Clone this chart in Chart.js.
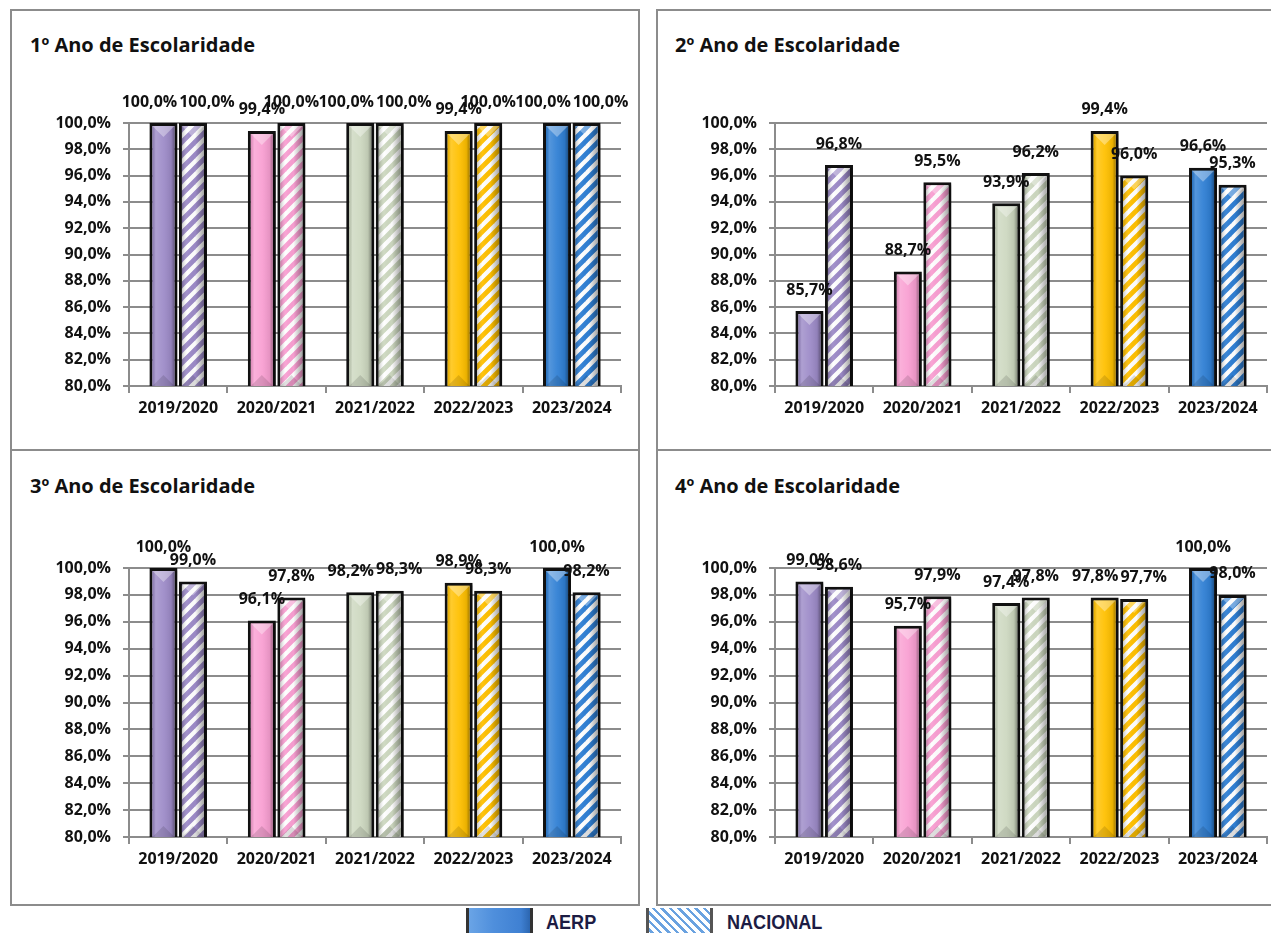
<!DOCTYPE html>
<html>
<head>
<meta charset="utf-8">
<script src="https://cdn.jsdelivr.net/npm/chart.js@4.4.1/dist/chart.umd.min.js"></script>
<style>
html,body{margin:0;padding:0;background:#fff;width:1271px;height:933px;overflow:hidden;font-family:'Open Sans',sans-serif;}
.panel{position:absolute;border:2px solid #8c8c8c;box-sizing:border-box;}
.title{position:absolute;font-weight:700;font-size:20px;color:#111;white-space:nowrap;line-height:26px;}
canvas{position:absolute;}
.lbox{position:absolute;box-sizing:border-box;}
.ltext{position:absolute;font-family:'Liberation Sans Narrow','Arial Narrow','Liberation Sans',sans-serif;font-weight:700;font-size:21px;color:#1c1c44;line-height:26px;white-space:nowrap;transform:scaleX(0.86);transform-origin:0 0;}
</style>
</head>
<body>
<div class="panel" style="left:10px;top:9px;width:630px;height:442px;"></div>
<div class="panel" style="left:656px;top:9px;width:630px;height:442px;"></div>
<div class="panel" style="left:10px;top:449px;width:630px;height:457px;"></div>
<div class="panel" style="left:656px;top:449px;width:630px;height:457px;"></div>

<div class="title" id="t1" style="left:30px;top:32px;"></div>
<div class="title" id="t2" style="left:675px;top:32px;"></div>
<div class="title" id="t3" style="left:30px;top:473px;"></div>
<div class="title" id="t4" style="left:675px;top:473px;"></div>

<canvas id="c1"></canvas>
<canvas id="c2"></canvas>
<canvas id="c3"></canvas>
<canvas id="c4"></canvas>

<div class="lbox" style="left:466px;top:908px;width:67px;height:40px;border-left:3px solid #333;border-right:3px solid #333;background:linear-gradient(to right,#6aa4e6 0%,#4f8fdc 40%,#3f80d2 85%,#2c66b0 100%);"></div>
<div class="ltext" id="lg1" style="left:546px;top:909px;"></div>
<div class="lbox" style="left:646px;top:908px;width:67px;height:40px;border-left:3px solid #555;border-right:3px solid #555;background:repeating-linear-gradient(45deg,#6aa2e0 0px,#6aa2e0 2.5px,#ffffff 2.5px,#ffffff 6px);"></div>
<div class="ltext" id="lg2" style="left:727px;top:909px;"></div>

<script>
// ---------- DATA ----------
const categories = ['2019/2020', '2020/2021', '2021/2022', '2022/2023', '2023/2024'];
const seriesNames = ['AERP', 'NACIONAL'];
const chartTitles = ['1º Ano de Escolaridade', '2º Ano de Escolaridade', '3º Ano de Escolaridade', '4º Ano de Escolaridade'];

const aerp1 = [100.0, 99.4, 100.0, 99.4, 100.0];
const nacional1 = [100.0, 100.0, 100.0, 100.0, 100.0];

const aerp2 = [85.7, 88.7, 93.9, 99.4, 96.6];
const nacional2 = [96.8, 95.5, 96.2, 96.0, 95.3];

const aerp3 = [100.0, 96.1, 98.2, 98.9, 100.0];
const nacional3 = [99.0, 97.8, 98.3, 98.3, 98.2];

const aerp4 = [99.0, 95.7, 97.4, 97.8, 100.0];
const nacional4 = [98.6, 97.9, 97.8, 97.7, 98.0];

const yMin = 80, yMax = 100, yStep = 2;

// ---------- STYLE ----------
const categoryColors = ['#9d8bc8', '#f99fd2', '#cdd8c0', '#ffc000', '#2f7fd4'];
const FONT = "'Open Sans', sans-serif";
const GRID = '#8c8c8c';

function fmt(v) { return v.toFixed(1).replace('.', ',') + '%'; }

function stripePattern(color) {
  const s = 13;
  const c = document.createElement('canvas');
  c.width = s; c.height = s;
  const g = c.getContext('2d');
  g.fillStyle = '#ffffff';
  g.fillRect(0, 0, s, s);
  g.strokeStyle = color;
  g.lineWidth = 4.8;
  g.lineCap = 'square';
  [[0, s, s, 0], [-s / 2, s / 2, s / 2, -s / 2], [s / 2, s * 1.5, s * 1.5, s / 2]].forEach(([a, b, cc, d]) => {
    g.beginPath(); g.moveTo(a, b); g.lineTo(cc, d); g.stroke();
  });
  return c;
}

const bevelPlugin = {
  id: 'bevel',
  beforeDatasetDraw(chart) {
    const ctx = chart.ctx;
    ctx.save();
    ctx.shadowColor = 'rgba(0,0,0,0.35)';
    ctx.shadowOffsetX = 3;
    ctx.shadowOffsetY = 2;
    ctx.shadowBlur = 3;
  },
  afterDatasetDraw(chart, args) {
    const ctx = chart.ctx;
    ctx.restore();
    const ca = chart.chartArea;
    const bw = 3;
    args.meta.data.forEach((el) => {
      const p = el.getProps(['x', 'y', 'base', 'width'], true);
      const l = p.x - p.width / 2 + bw, r = p.x + p.width / 2 - bw;
      const t = Math.min(p.y, p.base) + bw;
      const b = Math.min(Math.max(p.y, p.base) - bw, ca.bottom);
      if (r <= l || b <= t) return;
      ctx.save();
      ctx.beginPath(); ctx.rect(l, t, r - l, b - t); ctx.clip();
      const g = ctx.createLinearGradient(l, 0, r, 0);
      if (args.index === 0) {
        g.addColorStop(0, 'rgba(0,0,0,0.10)');
        g.addColorStop(0.15, 'rgba(255,255,255,0.18)');
        g.addColorStop(0.5, 'rgba(255,255,255,0.06)');
        g.addColorStop(0.85, 'rgba(0,0,0,0.08)');
        g.addColorStop(1, 'rgba(0,0,0,0.35)');
      } else {
        g.addColorStop(0, 'rgba(0,0,0,0.22)');
        g.addColorStop(0.25, 'rgba(255,255,255,0.05)');
        g.addColorStop(0.6, 'rgba(0,0,0,0.02)');
        g.addColorStop(1, 'rgba(0,0,0,0.35)');
      }
      ctx.fillStyle = g;
      ctx.fillRect(l, t, r - l, b - t);
      const w = r - l, h = Math.min(w * 0.5, (b - t) / 2);
      ctx.beginPath(); ctx.moveTo(l, t); ctx.lineTo(r, t); ctx.lineTo(l + w / 2, t + h); ctx.closePath();
      ctx.fillStyle = 'rgba(255,255,255,0.35)'; ctx.fill();
      ctx.beginPath(); ctx.moveTo(l, b); ctx.lineTo(r, b); ctx.lineTo(l + w / 2, b - h); ctx.closePath();
      ctx.fillStyle = 'rgba(0,0,0,0.12)'; ctx.fill();
      ctx.restore();
    });
  }
};

const labelPlugin = {
  id: 'valueLabels',
  afterDatasetsDraw(chart) {
    const ctx = chart.ctx;
    ctx.save();
    ctx.font = 'bold 16px ' + FONT;
    ctx.fillStyle = '#111';
    ctx.textAlign = 'center';
    ctx.textBaseline = 'middle';
    const metas = chart.data.datasets.map((d, i) => chart.getDatasetMeta(i));
    const n = chart.data.labels.length;
    for (let k = 0; k < n; k++) {
      const items = metas.map((m, i) => {
        const el = m.data[k];
        const v = chart.data.datasets[i].data[k];
        const txt = fmt(v);
        return { x: el.x, y: el.y - 21, txt, w: ctx.measureText(txt).width };
      });
      if (items.length === 2 && Math.abs(items[0].y - items[1].y) < 4) {
        const ov = (items[0].x + items[0].w / 2) - (items[1].x - items[1].w / 2) + 2;
        if (ov > 0) { items[0].x -= ov / 2; items[1].x += ov / 2; }
      }
      items.forEach(it => ctx.fillText(it.txt, it.x, it.y));
    }
    ctx.restore();
  }
};

function makeChart(id, box, aerp, nacional) {
  const cv = document.getElementById(id);
  cv.width = box.W; cv.height = box.H;
  cv.style.left = box.L + 'px'; cv.style.top = box.T + 'px';
  cv.style.width = box.W + 'px'; cv.style.height = box.H + 'px';
  const ctx = cv.getContext('2d');
  const patterns = categoryColors.map(c => ctx.createPattern(stripePattern(c), 'repeat'));
  return new Chart(cv, {
    type: 'bar',
    data: {
      labels: categories,
      datasets: [
        { label: seriesNames[0], data: aerp, backgroundColor: categoryColors, borderColor: '#111', borderWidth: 3, borderSkipped: false },
        { label: seriesNames[1], data: nacional, backgroundColor: patterns, borderColor: '#111', borderWidth: 3, borderSkipped: false }
      ]
    },
    options: {
      responsive: false,
      animation: false,
      devicePixelRatio: 1,
      layout: { padding: { top: box.pt, right: box.pr, bottom: 0, left: 0 } },
      plugins: { legend: { display: false }, title: { display: false }, tooltip: { enabled: false } },
      datasets: { bar: { categoryPercentage: 0.6, barPercentage: 0.95 } },
      scales: {
        x: {
          grid: { display: true, drawOnChartArea: false, drawTicks: true, tickLength: 7, color: GRID, lineWidth: 2, offset: true },
          border: { display: true, color: GRID, width: 2 },
          ticks: { color: '#111', font: { family: FONT, size: 16, weight: 'bold' }, padding: 6, maxRotation: 0, autoSkip: false },
          afterFit(a) { a.height = box.xh; }
        },
        y: {
          min: yMin, max: yMax,
          ticks: { stepSize: yStep, color: '#111', font: { family: FONT, size: 16, weight: 'bold' }, padding: 12, callback: v => fmt(v) },
          grid: { color: GRID, lineWidth: 2, tickLength: 6 },
          border: { display: true, color: GRID, width: 2 },
          afterFit(a) { a.width = box.yw; }
        }
      }
    },
    plugins: [bevelPlugin, labelPlugin]
  });
}

document.getElementById('t1').textContent = chartTitles[0];
document.getElementById('t2').textContent = chartTitles[1];
document.getElementById('t3').textContent = chartTitles[2];
document.getElementById('t4').textContent = chartTitles[3];
document.getElementById('lg1').textContent = seriesNames[0];
document.getElementById('lg2').textContent = seriesNames[1];

makeChart('c1', { L: 13, T: 12, W: 624, H: 436, pt: 111, pr: 16, xh: 62, yw: 116 }, aerp1, nacional1);
makeChart('c2', { L: 659, T: 12, W: 612, H: 436, pt: 111, pr: 4, xh: 62, yw: 116 }, aerp2, nacional2);
makeChart('c3', { L: 13, T: 452, W: 624, H: 451, pt: 116, pr: 16, xh: 66, yw: 116 }, aerp3, nacional3);
makeChart('c4', { L: 659, T: 452, W: 612, H: 451, pt: 116, pr: 4, xh: 66, yw: 116 }, aerp4, nacional4);
</script>
</body>
</html>
